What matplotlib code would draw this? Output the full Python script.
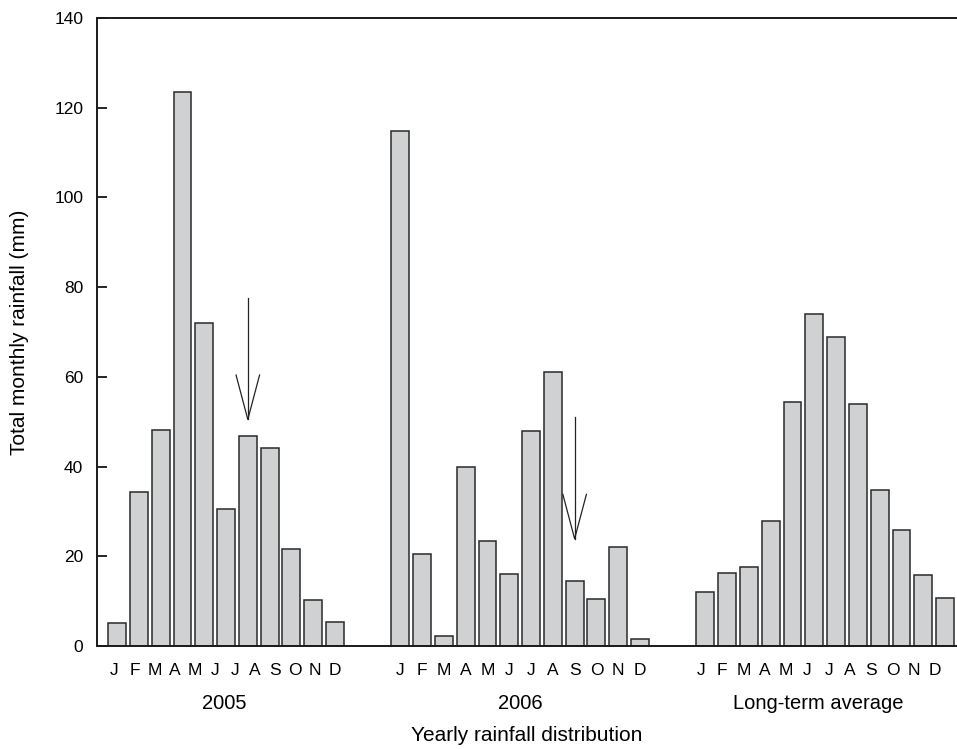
"""Monthly rainfall bars for 2005, 2006 and the long-term average."""

import matplotlib

matplotlib.use("Agg")
import matplotlib.pyplot as plt
import numpy as np

months = ["J", "F", "M", "A", "M", "J", "J", "A", "S", "O", "N", "D"]
groups = ["2005", "2006", "Long-term average"]

# 2005 figure shows only eleven bars
rain_2005 = [5.1, 34.3, 48.1, 123.5, 71.9, 30.6, 46.9, 44.1, 21.6, 10.3, 5.3]
rain_2006 = [114.9, 20.5, 2.2, 40.0, 23.5, 16.0, 48.0, 61.0, 14.4, 10.5, 22.1, 1.6]
rain_longterm = [12.1, 16.3, 17.5, 27.9, 54.5, 74.0, 68.9, 53.9, 34.8, 25.9, 15.9, 10.8]

# arrows: (bar index in group, group, top value, tip value)
arrows = [(6, 0, 77.6, 50.5), (8, 1, 51.1, 23.9)]

plt.rcParams.update({
    "font.family": ["Liberation Sans", "DejaVu Sans"],
    "font.size": 12,
})

fig = plt.figure(figsize=(9.57, 7.5), dpi=100)
ax = fig.add_axes([0.1014, 0.1387, 0.8986, 0.8373])

starts = [0, 13, 27]
series = [rain_2005, rain_2006, rain_longterm]
fc = "#d0d1d3"
ec = "#2a2a2a"
for s, vals in zip(starts, series):
    x = s + np.arange(len(vals))
    ax.bar(x, vals, width=0.82, color=fc, edgecolor=ec, linewidth=1.1, zorder=2)

ax.set_xlim(-0.92, 38.55)
ax.set_ylim(0, 140)
ax.set_yticks(np.arange(0, 141, 20))
ax.tick_params(axis="y", direction="in", length=7, width=1.2, pad=10, labelsize=12.5)
ax.tick_params(axis="x", length=0, pad=12, labelsize=12.5)

# month labels (2005 labels are spread over eleven bars, as in the original)
label_spans = [(-0.12, 10.0), (13.0, 24.0), (26.8, 37.55)]
tick_pos = []
tick_lab = []
for lo, hi in label_spans:
    tick_pos += list(np.linspace(lo, hi, 12))
    tick_lab += months
ax.set_xticks(tick_pos)
ax.set_xticklabels(tick_lab)

for (lo, hi), name in zip(label_spans, groups):
    ax.text((lo + hi) / 2, -0.092, name, transform=ax.get_xaxis_transform(),
            ha="center", va="center", fontsize=14.5)

ax.set_xlabel("Yearly rainfall distribution", fontsize=15)
ax.xaxis.set_label_coords(0.5, -0.128)
ax.set_ylabel("Total monthly rainfall (mm)", fontsize=15)
ax.yaxis.set_label_coords(-0.079, 0.5)

for side in ["left", "bottom", "top"]:
    ax.spines[side].set_linewidth(1.4)
    ax.spines[side].set_color("#1a1a1a")
ax.spines["right"].set_visible(False)

for idx, g, top, tip in arrows:
    xa = starts[g] + idx
    ax.plot([xa, xa], [top, tip], color="#222222", lw=0.9, zorder=3)
    ax.plot([xa - 0.54, xa, xa + 0.54], [tip + 9.9, tip, tip + 9.9],
            color="#222222", lw=0.9, zorder=3)

fig.savefig("out.png", dpi=100)
